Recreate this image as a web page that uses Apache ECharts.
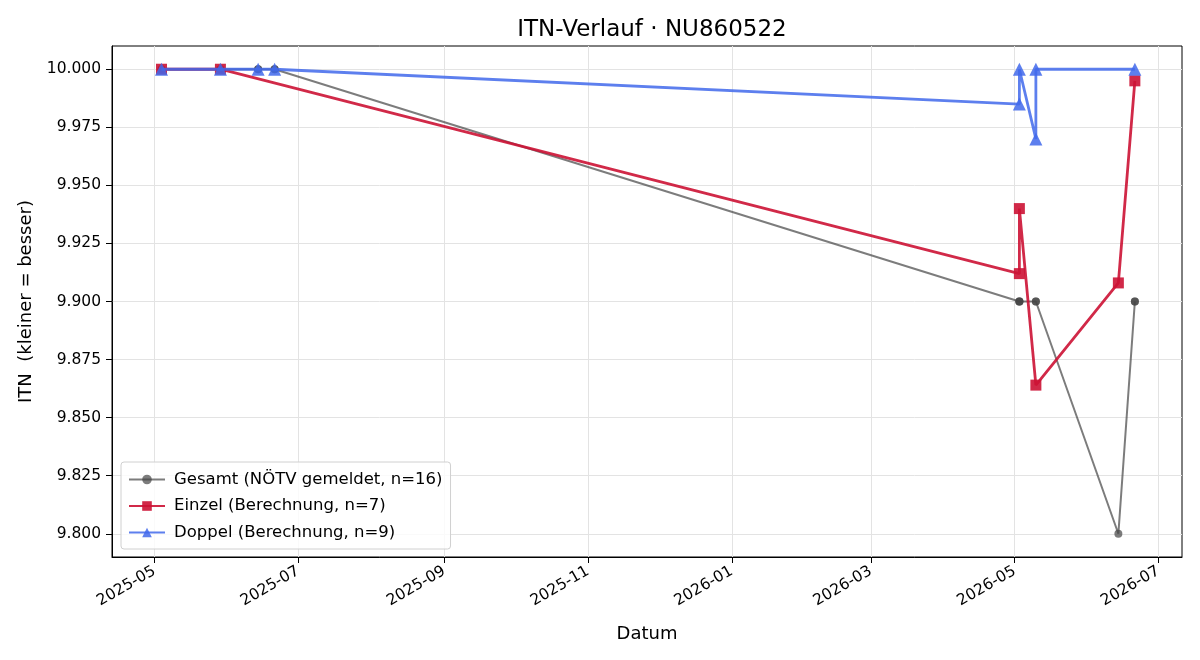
<!DOCTYPE html>
<html lang="de">
<head>
    <meta charset="UTF-8">
    <title>ITN-Verlauf</title>
    <style>
        html, body { margin: 0; padding: 0; background: #fff; }
    </style>
</head>
<body>
<div id="main" style="width: 1200px;height:660px;"></div>
<script src="https://cdn.jsdelivr.net/npm/echarts@6/dist/echarts.min.js"></script>
<script>
    // Daten
    var gesamtDates = ['2025-05-04', '2025-05-04', '2025-05-29', '2025-05-29', '2025-06-14', '2025-06-14',
        '2025-06-21', '2025-06-21', '2026-05-03', '2026-05-03', '2026-05-03', '2026-05-10', '2026-05-10',
        '2026-06-14', '2026-06-21', '2026-06-21'];
    var gesamtValues = [10.0, 10.0, 10.0, 10.0, 10.0, 10.0, 10.0, 10.0, 9.9, 9.9, 9.9, 9.9, 9.9, 9.8, 9.9, 9.9];

    var einzelDates = ['2025-05-04', '2025-05-29', '2026-05-03', '2026-05-03', '2026-05-10', '2026-06-14', '2026-06-21'];
    var einzelValues = [10.0, 10.0, 9.912, 9.940, 9.864, 9.908, 9.995];

    var doppelDates = ['2025-05-04', '2025-05-29', '2025-06-14', '2025-06-21', '2026-05-03', '2026-05-03',
        '2026-05-10', '2026-05-10', '2026-06-21'];
    var doppelValues = [10.0, 10.0, 10.0, 10.0, 9.985, 10.0, 9.970, 10.0, 10.0];

    var xTickLabels = ['2025-05', '2025-07', '2025-09', '2025-11', '2026-01', '2026-03', '2026-05', '2026-07'];
    var yTicks = [9.800, 9.825, 9.850, 9.875, 9.900, 9.925, 9.950, 9.975, 10.000];

    // Datum -> Tage seit 1970 (UTC), damit die x-Achse eine einfache Werteachse ist
    function toDay(s) {
        var p = s.split('-');
        return Date.UTC(+p[0], +p[1] - 1, p[2] ? +p[2] : 1) / 86400000;
    }

    function pairs(dates, values) {
        var out = [];
        for (var i = 0; i < dates.length; i++) {
            out.push([toDay(dates[i]), values[i]]);
        }
        return out;
    }

    var xTickValues = xTickLabels.map(toDay);
    var labelByDay = {};
    xTickLabels.forEach(function (l, i) { labelByDay[xTickValues[i]] = l; });

    var font = 'DejaVu Sans';
    var myChart = echarts.init(document.getElementById('main'));

    var option = {
        backgroundColor: '#fff',
        animation: false,
        textStyle: { fontFamily: font },
        title: {
            text: 'ITN-Verlauf · NU860522',
            left: 647,
            top: 14,
            textAlign: 'center',
            textStyle: { fontFamily: font, fontSize: 23, fontWeight: 'normal', color: '#000' }
        },
        grid: {
            left: 112, right: 18, top: 46, bottom: 103,
            show: true, borderColor: '#000', borderWidth: 1
        },
        legend: {
            orient: 'vertical',
            left: 121,
            top: 462,
            padding: [9, 8, 8, 7],
            itemGap: 9.5,
            itemWidth: 36,
            itemHeight: 12,
            backgroundColor: 'rgba(255,255,255,0.8)',
            borderColor: '#d0d0d0',
            borderWidth: 1,
            borderRadius: 3,
            textStyle: { fontFamily: font, fontSize: 16.5, color: '#000', padding: [0, 0, 0, 4] },
            data: ['Gesamt (NÖTV gemeldet, n=16)', 'Einzel (Berechnung, n=7)', 'Doppel (Berechnung, n=9)']
        },
        xAxis: {
            type: 'value',
            min: toDay('2025-04-13'),
            max: toDay('2026-07-11'),
            name: 'Datum',
            nameLocation: 'middle',
            nameGap: 68,
            nameTextStyle: { fontFamily: font, fontSize: 18, color: '#000' },
            axisLine: { show: true, onZero: false, lineStyle: { color: '#000' } },
            axisTick: { show: true, length: 6, inside: false, customValues: xTickValues, lineStyle: { color: '#000' } },
            axisLabel: {
                customValues: xTickValues,
                rotate: 30,
                fontFamily: font,
                fontSize: 15.5,
                color: '#000',
                margin: 13,
                showMinLabel: true,
                showMaxLabel: true,
                formatter: function (v) { return labelByDay[v] || ''; }
            },
            splitLine: { show: true, lineStyle: { color: '#e3e3e3', width: 1 } }
        },
        yAxis: {
            type: 'value',
            min: 9.79,
            max: 10.01,
            name: 'ITN  (kleiner = besser)',
            nameLocation: 'middle',
            nameGap: 77,
            nameTextStyle: { fontFamily: font, fontSize: 18, color: '#000' },
            axisLine: { show: true, onZero: false, lineStyle: { color: '#000' } },
            axisTick: { show: true, length: 6, customValues: yTicks, lineStyle: { color: '#000' } },
            axisLabel: {
                customValues: yTicks,
                fontFamily: font,
                fontSize: 15.5,
                color: '#000',
                margin: 11,
                formatter: function (v) { return v.toFixed(3); }
            },
            splitLine: { show: true, lineStyle: { color: '#e3e3e3', width: 1 } }
        },
        series: [
            {
                name: 'Gesamt (NÖTV gemeldet, n=16)',
                type: 'line',
                data: pairs(gesamtDates, gesamtValues),
                symbol: 'circle',
                symbolSize: 8,
                color: 'rgba(68,68,68,0.7)',
                lineStyle: { color: 'rgba(68,68,68,0.7)', width: 2 },
                itemStyle: { color: 'rgba(68,68,68,0.7)' },
                z: 2
            },
            {
                name: 'Einzel (Berechnung, n=7)',
                type: 'line',
                data: pairs(einzelDates, einzelValues),
                symbol: 'rect',
                symbolSize: 11,
                color: 'rgba(204,18,52,0.9)',
                lineStyle: { color: 'rgba(204,18,52,0.9)', width: 2.8 },
                itemStyle: { color: 'rgba(204,18,52,0.9)' },
                z: 3
            },
            {
                name: 'Doppel (Berechnung, n=9)',
                type: 'line',
                data: pairs(doppelDates, doppelValues),
                symbol: 'triangle',
                symbolSize: 13,
                color: 'rgba(65,105,235,0.85)',
                lineStyle: { color: 'rgba(65,105,235,0.85)', width: 2.8 },
                itemStyle: { color: 'rgba(65,105,235,0.85)' },
                z: 4
            }
        ]
    };

    myChart.setOption(option);
</script>
</body>
</html>
